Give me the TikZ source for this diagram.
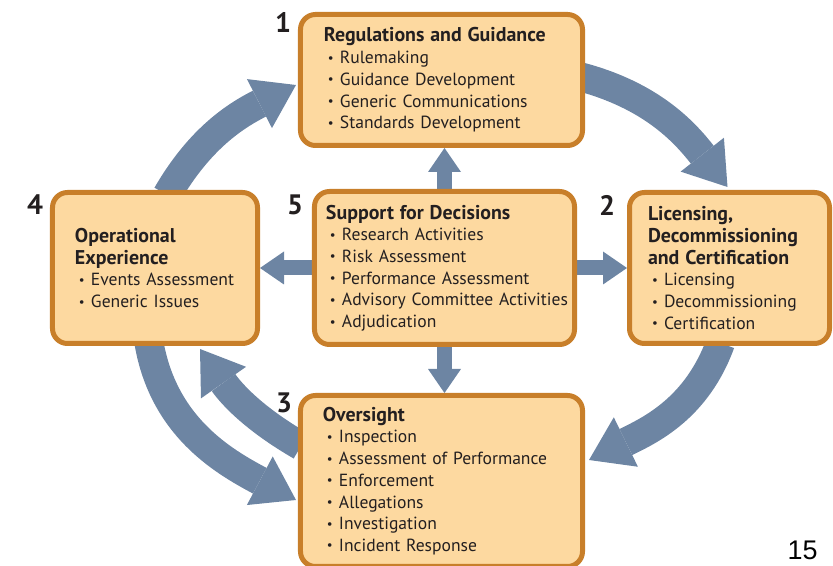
\documentclass[tikz,border=0pt]{standalone}
\usepackage{fontspec}
\setmainfont{PT Sans}
\newfontfamily\pagenumfont{Liberation Sans}
\usepackage{xcolor}
\usetikzlibrary{positioning, arrows.meta, calc, backgrounds}

\definecolor{boxfill}{HTML}{FDD9A0}
\definecolor{boxline}{HTML}{C87F2A}
\definecolor{flow}{HTML}{6D85A3}
\definecolor{ink}{HTML}{231F20}

% heading line and bullet line inside a block
\newcommand{\hd}[1]{\mbox{\fontsize{17}{18.5}\selectfont\bfseries #1}}
\newcommand{\itm}[1]{\\\mbox{\hspace*{0.12cm}\makebox[0.36cm][l]{\raisebox{0.08em}{\fontsize{11}{11}\selectfont\textbullet}}#1}}

\begin{document}
\begin{tikzpicture}[
    x=0.03cm, y=0.03cm,
    block/.style={rectangle, draw=boxline, fill=boxfill, line width=0.15cm, rounded corners=0.45cm, align=left, text=ink, font=\fontsize{15}{18.5}\selectfont, inner ysep=0pt},
    num/.style={font=\fontsize{24}{24}\selectfont\bfseries, text=ink, inner sep=0pt},
    bigarr/.style={line width=0.87cm, draw=flow, -{Triangle[length=1.23cm, width=1.65cm, line width=0pt]}},
    arr/.style={line width=0.45cm, draw=flow, -{Triangle[length=0.72cm, width=0.99cm, line width=0pt]}}
]
\useasboundingbox (0,0) rectangle (833,566);
\clip (0,0) rectangle (833,566);

\node[block, minimum width=8.46cm, minimum height=3.93cm, text width=7.05cm, inner xsep=0.705cm] (reg) at (441.5, 486) {\hd{Regulations and Guidance}\itm{Rulemaking}\itm{Guidance Development}\itm{Generic Communications}\itm{Standards Development}};
\node[block, minimum width=6.0cm, minimum height=4.53cm, text width=4.89cm, inner xsep=0.555cm] (lic) at (729.5, 298) {\hd{Licensing,}\\\hd{Decommissioning}\\\hd{and Certification}\itm{Licensing}\itm{Decommissioning}\itm{Certification}};
\node[block, minimum width=8.46cm, minimum height=5.13cm, text width=7.11cm, inner xsep=0.675cm] (ovs) at (441.5, 85) {\hd{Oversight}\itm{Inspection}\itm{Assessment of Performance}\itm{Enforcement}\itm{Allegations}\itm{Investigation}\itm{Incident Response}};
\node[block, minimum width=6.15cm, minimum height=4.53cm, text width=4.8cm, inner xsep=0.675cm] (ops) at (155, 298) {\hd{Operational}\\\hd{Experience}\itm{Events Assessment}\itm{Generic Issues}};
\node[block, minimum width=7.8cm, minimum height=4.59cm, text width=7.11cm, inner xsep=0.345cm] (sup) at (444.5, 298) {\hd{Support for Decisions}\itm{Research Activities}\itm{Risk Assessment}\itm{Performance Assessment}\itm{Advisory Committee Activities}\itm{Adjudication}};

\node[num] (n1) at (283, 544) {1};
\node[num] (n2) at (607, 361) {2};
\node[num] (n3) at (284, 163) {3};
\node[num] (n4) at (35, 361) {4};
\node[num] (n5) at (295, 361) {5};

\node[font=\pagenumfont\fontsize{23}{23}\selectfont, anchor=base, inner sep=0pt] (page) at (802.5, 6) {15};

\begin{scope}[on background layer]
% the review cycle
\draw[bigarr] ($(ops.north)+(12,-5)$) to[out=60, in=207] ($(reg.west)+(-2,-5)$);
\draw[bigarr] ($(reg.east)+(-4,3)$) to[out=-15, in=128] ($(lic.north)+(-2,3)$);
\draw[bigarr] ($(lic.south)+(-9,3)$) to[out=250, in=26] ($(ovs.east)+(4,21)$);
\draw[bigarr] ($(ops.south)+(-6,3)$) to[out=280, in=152] ($(ovs.west)+(-2,-19)$);
\draw[bigarr] ($(ovs.west)+(3,35)$) to[out=150, in=305] ($(ops.south)+(45,-3)$);
% support feeds every step
\draw[arr] (sup.north) -- (sup.north |- reg.south);
\draw[arr] (sup.west) -- (sup.west -| ops.east);
\draw[arr] (sup.east) -- (sup.east -| lic.west);
\draw[arr] (sup.south) -- (sup.south |- ovs.north);
\end{scope}

\end{tikzpicture}
\end{document}
